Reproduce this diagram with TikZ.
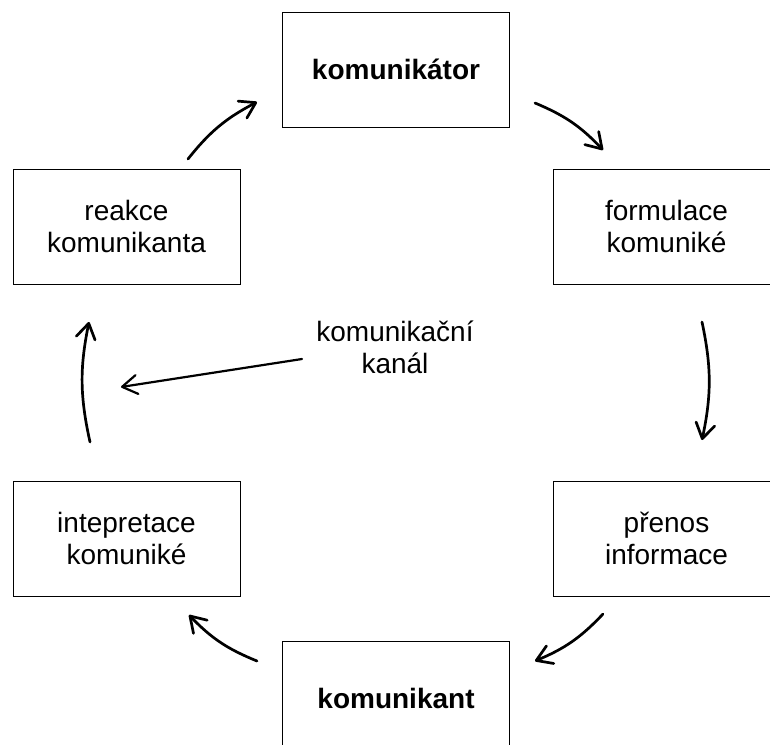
\documentclass[tikz,border=0pt]{standalone}
\usepackage{fontspec}
\setmainfont{Liberation Sans}
\usetikzlibrary{arrows.meta}
\begin{document}
\begin{tikzpicture}[x=1pt,y=-1pt,
  stagebox/.style={draw, line width=1pt, minimum width=227pt, minimum height=115pt,
    align=center, inner sep=0pt, font=\fontsize{28}{32}\selectfont},
  keybox/.style={stagebox, font=\fontsize{28}{32}\selectfont\bfseries},
  cyclearrow/.style={line width=2.7pt, line cap=round,
    -{Straight Barb[length=15pt,width=19pt,line cap=round,line join=round]}, bend left=12},
  channelarrow/.style={line width=2.2pt, line cap=round,
    -{Straight Barb[length=15pt,width=19pt,line cap=round,line join=round]}}
]
\useasboundingbox (0,0) rectangle (770,744);

% stages of the communication cycle
\node[keybox]   (sender)    at (396,69.5)  {komunikátor};
\node[stagebox] (formulate) at (666.5,226.5) {formulace\\komuniké};
\node[stagebox] (transfer)  at (666.5,538.5) {přenos\\informace};
\node[keybox]   (receiver)  at (396,698.5) {komunikant};
\node[stagebox] (interpret) at (126.5,538.5) {intepretace\\komuniké};
\node[stagebox] (react)     at (126.5,226.5) {reakce\\komunikanta};

% channel in the middle
\node[align=center, inner sep=0pt, font=\fontsize{28}{32}\selectfont] (channel) at (395,347) {komunikační\\kanál};

% arrow end points
\coordinate (a1s) at (188,159); \coordinate (a1e) at (257,102);
\coordinate (a2s) at (535,103); \coordinate (a2e) at (603,150);
\coordinate (a3s) at (702,322); \coordinate (a3e) at (702,440);
\coordinate (a4s) at (603,614); \coordinate (a4e) at (535,661);
\coordinate (a5s) at (257,661); \coordinate (a5e) at (189,615);
\coordinate (a6s) at (90,442);  \coordinate (a6e) at (89,322);
\coordinate (c1s) at (302,359); \coordinate (c1e) at (121,387);

% cycle arrows (clockwise)
\draw[cyclearrow] (a1s) to (a1e);
\draw[cyclearrow] (a2s) to (a2e);
\draw[cyclearrow] (a3s) to (a3e);
\draw[cyclearrow] (a4s) to (a4e);
\draw[cyclearrow] (a5s) to (a5e);
\draw[cyclearrow] (a6s) to (a6e);

% feedback through the channel
\draw[channelarrow] (c1s) -- (c1e);
\end{tikzpicture}
\end{document}
